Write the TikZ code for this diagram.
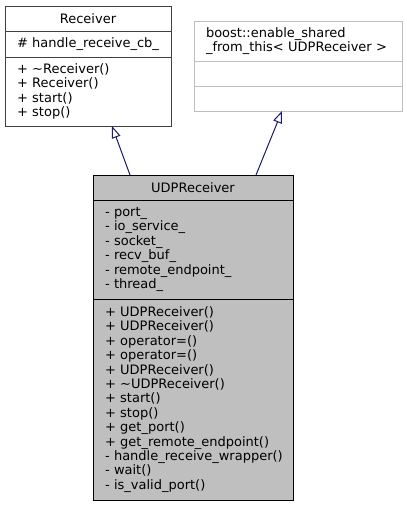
\documentclass[tikz,border=0pt]{standalone}
\usepackage{fontspec}
\setmainfont{DejaVu Sans}
\usetikzlibrary{arrows.meta, positioning}
\definecolor{cedge}{HTML}{191970}
\definecolor{cgrey}{HTML}{BFBFBF}
\definecolor{cdark}{HTML}{404040}
\hyphenpenalty=10000
\exhyphenpenalty=10000
\tikzset{
  every picture/.style={x=1pt, y=1pt, line width=1pt},
  part/.style={draw=#1, rectangle, inner xsep=12pt, inner ysep=0pt, outer sep=0pt, font=\fontsize{13}{14.4}\selectfont},
  part/.default=black,
  inherit/.style={-{Triangle[open, length=12pt, width=9pt]}, draw=cedge},
}

\begin{document}
\begin{tikzpicture}[recvbox/.style={part=cdark, text width=142pt}, boostbox/.style={part=cgrey, text width=184pt}, udpbox/.style={part=black, fill=cgrey, text width=176pt}]
  \useasboundingbox (0,0) rectangle (407,-507);
  \node[recvbox, minimum height=25pt, align=center, anchor=north west] (recv) at (5,-6) {Receiver};
  \node[recvbox, minimum height=26pt, align=left, below=0pt of recv] (recvattr) {\# handle\_receive\_cb\_};
  \node[recvbox, minimum height=69pt, align=left, below=0pt of recvattr] (recvops) {+ \textasciitilde Receiver()\\+ Receiver()\\+ start()\\+ stop()};
  \node[boostbox, minimum height=40pt, align=left, anchor=north west] (boost) at (194,-21) {boost::enable\_shared\\\_from\_this< UDPReceiver >};
  \node[boostbox, minimum height=25pt, below=0pt of boost] (boostattr) {};
  \node[boostbox, minimum height=25pt, below=0pt of boostattr] (boostops) {};
  \node[udpbox, minimum height=25pt, align=center, anchor=north west] (udp) at (93,-175) {UDPReceiver};
  \node[udpbox, minimum height=99pt, align=left, below=0pt of udp] (udpattr) {- port\_\\- io\_service\_\\- socket\_\\- recv\_buf\_\\- remote\_endpoint\_\\- thread\_};
  \node[udpbox, minimum height=201pt, align=left, below=0pt of udpattr] (udpops) {+ UDPReceiver()\\+ UDPReceiver()\\+ operator=()\\+ operator=()\\+ UDPReceiver()\\+ \textasciitilde UDPReceiver()\\+ start()\\+ stop()\\+ get\_port()\\+ get\_remote\_endpoint()\\\mbox{- handle\_receive\_wrapper()}\\- wait()\\- is\_valid\_port()};
  \draw[inherit] ([xshift=37pt]udp.north west) -- ([xshift=24pt]recvops.south);
  \draw[inherit] ([xshift=63pt]udp.north) -- ([xshift=-16pt]boostops.south);
\end{tikzpicture}
\end{document}
